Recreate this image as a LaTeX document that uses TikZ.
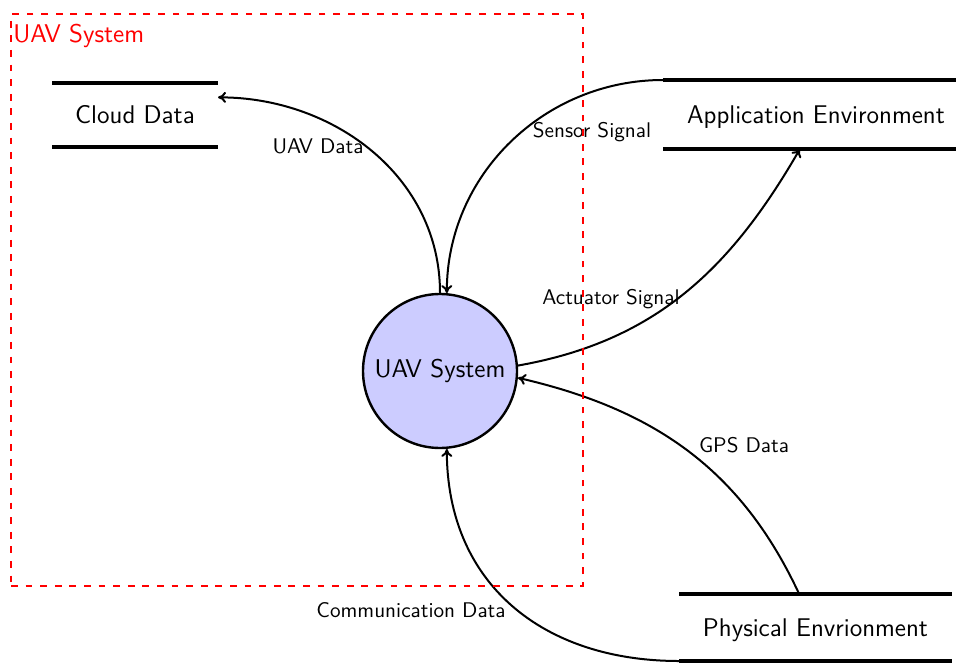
\documentclass[tikz,border=0pt]{standalone}
\usetikzlibrary{arrows.meta}
\begin{document}
\begin{tikzpicture}[x=0.5pt,y=0.5pt,
  mainfont/.style={font=\sffamily\fontsize{12.8}{15}\selectfont},
  store/.style={mainfont, inner sep=0pt, outer sep=0pt,
    text height=8.8pt, text depth=0pt,
    append after command={\pgfextra{%
      \draw[line width=1.6pt] (\tikzlastnode.north west) -- (\tikzlastnode.north east)
                              (\tikzlastnode.south west) -- (\tikzlastnode.south east);}}},
  process/.style={circle, draw, line width=1.2pt, fill=blue!20,
    minimum size=77pt, inner sep=0pt, mainfont},
  flow/.style={-{To[length=4pt, width=5.5pt]}, line width=1pt},
  flowlabel/.style={font=\sffamily\fontsize{10.6}{12}\selectfont, inner sep=0pt, anchor=base},
  boundary/.style={draw=red, dash pattern=on 3.4pt off 3.9pt, line width=1.2pt, inner sep=0pt}]

\useasboundingbox (0,0) rectangle (956,-663);

% processes and data stores
\node[process] (uav) at (440,-371) {UAV System};
\node[store, minimum width=83pt, minimum height=32pt] (cloud) at (135,-115) {Cloud Data};
\node[store, minimum width=153pt, minimum height=34.5pt] (appenv) at (816,-114.5) {Application Environment};
\node[store, minimum width=136.5pt, minimum height=33.5pt] (physenv) at (815.5,-627.5) {Physical Envrionment};

% data flows
\draw[flow] (uav.90) to[out=90, in=0] (cloud.12);
\draw[flow] (appenv.north west) to[out=180, in=90] (uav.85);
\draw[flow] (uav.4) to[out=10, in=-120] (appenv.245);
\draw[flow] (physenv.116) to[out=115, in=-13] (uav.-5);
\draw[flow] (physenv.south west) to[out=180, in=-90, looseness=1.1] (uav.-85);

% flow labels
\node[flowlabel] (lbluav) at (318,-154) {UAV Data};
\node[flowlabel] (lblsensor) at (592,-138) {Sensor Signal};
\node[flowlabel] (lblact) at (611,-304) {Actuator Signal};
\node[flowlabel] (lblgps) at (744,-452) {GPS Data};
\node[flowlabel] (lblcomm) at (411,-617) {Communication Data};

% system boundary
\node[boundary, minimum width=286pt, minimum height=286pt] (sysbound) at (297,-300) {};
\node[mainfont, text=red, inner sep=0pt, anchor=base west] (sysname) at (13,-42.7) {UAV System};
\end{tikzpicture}
\end{document}
